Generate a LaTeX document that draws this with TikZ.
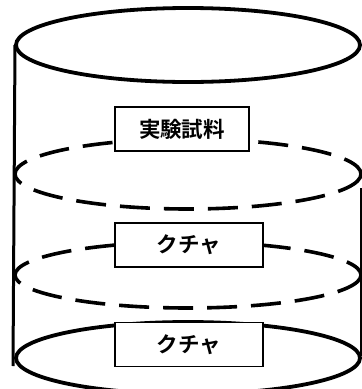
\documentclass[tikz,border=0pt]{standalone}
\usepackage{fontspec}
\newfontfamily\jpfont{Noto Sans CJK JP Bold}
\begin{document}
\begin{tikzpicture}[x=1pt,y=-1pt,
  rim/.style={line width=3.8pt},
  layer/.style={line width=3.6pt, dash pattern=on 30pt off 14pt},
  label/.style={draw, line width=1.9pt, fill=white, minimum height=44pt, inner sep=0pt, font=\jpfont\fontsize{21.5}{21.5}\selectfont}]
\useasboundingbox (0,0) rectangle (362,389);
\draw[rim] (188,45) ellipse [x radius=172, y radius=37];
\draw[line width=3pt] (15,45) -- (13,366);
\draw[line width=2.2pt] (361,188) -- (361,356);
\draw[layer] (188,174) ellipse [x radius=173, y radius=35];
\draw[layer] (188,275) ellipse [x radius=173, y radius=33];
\draw[rim] (188,358) ellipse [x radius=172, y radius=36];
\node[label, minimum width=134pt] (sample) at (182,129) {実験試料};
\node[label, minimum width=148pt] (kucha1) at (189,245) {クチャ};
\node[label, minimum width=148pt] (kucha2) at (189,344.5) {クチャ};
\end{tikzpicture}
\end{document}
